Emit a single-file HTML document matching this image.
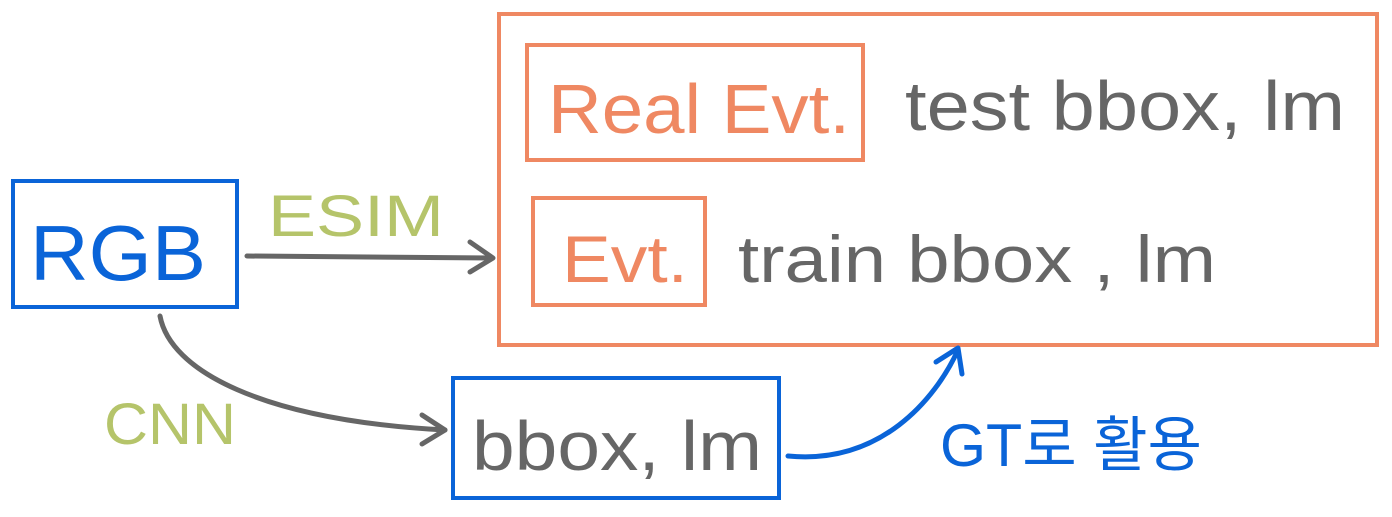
<!DOCTYPE html>
<html><head><meta charset="utf-8"><style>
html,body{margin:0;padding:0;background:#fff;}
svg{display:block}
text{font-family:"Liberation Sans","Noto Sans CJK KR",sans-serif;}
</style></head><body>
<svg width="1392" height="517" viewBox="0 0 1392 517" xmlns="http://www.w3.org/2000/svg">
<defs>
<marker id="ag" markerWidth="10" markerHeight="10" refX="8" refY="5" orient="auto" markerUnits="userSpaceOnUse" viewBox="0 0 10 10"><path d="M0,0 L8,5 L0,10" fill="none" stroke="#666" stroke-width="1.6"/></marker>
</defs>
<g fill="none" stroke-width="4">
<rect x="499" y="14" width="878" height="331" stroke="#ef8862"/>
<rect x="527" y="45" width="336" height="115" stroke="#ef8862"/>
<rect x="533" y="198" width="172" height="107" stroke="#ef8862"/>
<rect x="13" y="181" width="224" height="126" stroke="#0a64d8"/>
<rect x="453" y="378" width="326" height="120" stroke="#0a64d8"/>
</g>
<g fill="none" stroke="#666" stroke-width="5" stroke-linecap="round" stroke-linejoin="round">
<path d="M247,256 L492,258"/>
<path d="M470,242 L493,258 L470,272"/>
<path d="M160,316 C170,370 260,420 445,430"/>
<path d="M422,415 L445,430 L422,444"/>
</g>
<g fill="none" stroke="#0a64d8" stroke-width="5" stroke-linecap="round" stroke-linejoin="round">
<path d="M788,456 C880,465 935,400 958,350"/>
<path d="M936,362 L958,348 L962,374"/>
</g>
<text x="548" y="133" font-size="70" fill="#ef8862" textLength="302" lengthAdjust="spacingAndGlyphs">Real Evt.</text>
<text x="562" y="282" font-size="66" fill="#ef8862" textLength="126" lengthAdjust="spacingAndGlyphs">Evt.</text>
<text x="905" y="130" font-size="70" fill="#666" textLength="440" lengthAdjust="spacingAndGlyphs">test bbox, lm</text>
<text x="738" y="282" font-size="66" fill="#666" textLength="478" lengthAdjust="spacingAndGlyphs">train bbox , lm</text>
<text x="30" y="280" font-size="78" fill="#0a64d8" textLength="176" lengthAdjust="spacingAndGlyphs">RGB</text>
<text x="472" y="470" font-size="70" fill="#666" textLength="290" lengthAdjust="spacingAndGlyphs">bbox, lm</text>
<text x="268" y="236" font-size="58" fill="#b5c46a" textLength="176" lengthAdjust="spacingAndGlyphs">ESIM</text>
<text x="104" y="444" font-size="58" fill="#b5c46a" textLength="132" lengthAdjust="spacingAndGlyphs">CNN</text>
<text x="940" y="466" font-size="60" fill="#0a64d8" textLength="262" lengthAdjust="spacingAndGlyphs">GT로 활용</text>
</svg>
</body></html>
